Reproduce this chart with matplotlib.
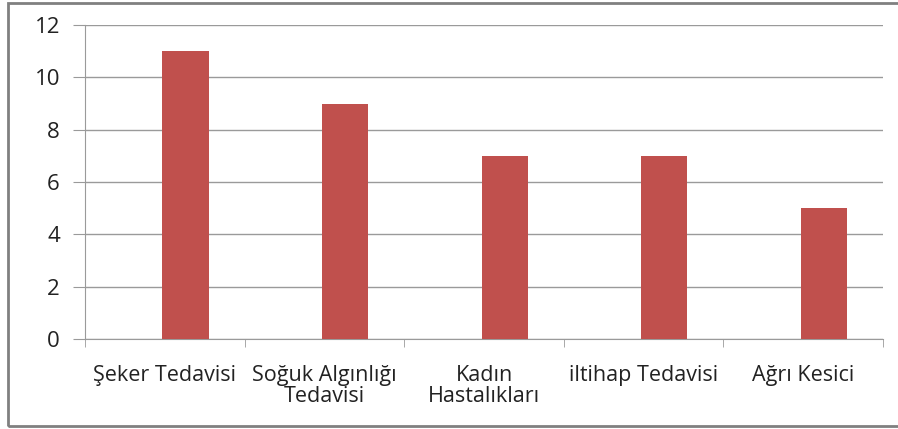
import matplotlib.pyplot as plt
from matplotlib.patches import Rectangle

categories = ["Şeker Tedavisi", "Soğuk Algınlığı\nTedavisi", "Kadın\nHastalıkları",
              "iltihap Tedavisi", "Ağrı Kesici"]
values = [11, 9, 7, 7, 5]
yticks = [0, 2, 4, 6, 8, 10, 12]

W, H = 898, 429
fig = plt.figure(figsize=(W / 100, H / 100), dpi=100)
plt.rcParams['font.family'] = ['Open Sans', 'DejaVu Sans']

ax = fig.add_axes([85 / W, (H - 339) / H, (883 - 85) / W, (339 - 25) / H])

# bars sit a bit right of the category centre (empty second series in the original)
pos = [i + 0.5 + 0.13 for i in range(len(values))]
ax.bar(pos, values, width=0.29, color="#C0504D", zorder=3)

ax.set_xlim(0, len(values))
ax.set_ylim(0, 12)
ax.set_yticks(yticks)
ax.set_yticklabels([str(v) for v in yticks], fontsize=16, color="#222222")
ax.yaxis.grid(True, color="#9a9a9a", linewidth=1)
ax.set_axisbelow(True)
ax.tick_params(axis='y', length=9, color="#9a9a9a", pad=9)

ax.set_xticks([i + 0.5 for i in range(len(values))])
ax.set_xticklabels(categories, fontsize=15.5, color="#222222", linespacing=1.0)
ax.set_xticks(range(len(values) + 1), minor=True)
ax.tick_params(axis='x', which='major', length=0, pad=19)
ax.tick_params(axis='x', which='minor', length=6, color="#9a9a9a")

for s in ["top", "right"]:
    ax.spines[s].set_visible(False)
for s in ["left", "bottom"]:
    ax.spines[s].set_color("#9a9a9a")

fig.add_artist(Rectangle((8 / W, 3 / H), 1.0, (426 - 3) / H, transform=fig.transFigure,
                         fill=False, edgecolor="#808080", linewidth=2))

fig.savefig("out.png", dpi=100)
